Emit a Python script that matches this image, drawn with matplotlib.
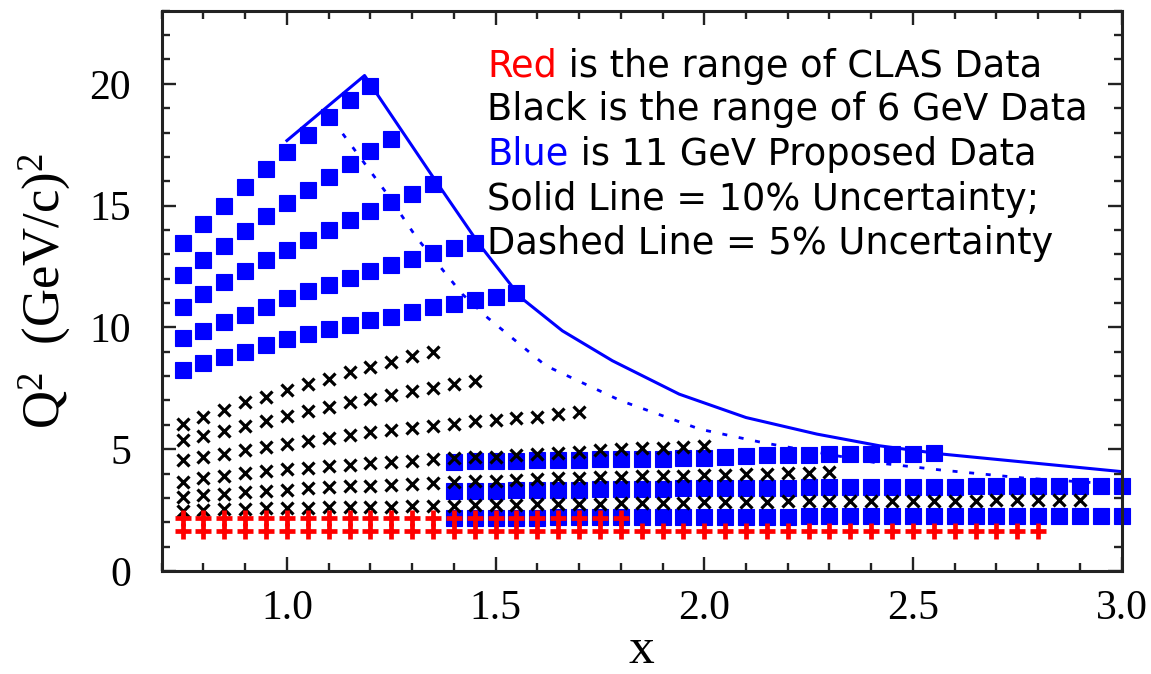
import numpy as np
import matplotlib
matplotlib.use("Agg")
import matplotlib.pyplot as plt
from matplotlib.ticker import MultipleLocator

# every series sits on a 0.05 grid in x, so only the start x and the Q2 values are kept
# blue squares: 11 GeV proposed data
blue_rows_start = [0.75, 0.75, 0.75, 0.75, 0.75, 1.40, 1.40, 1.40]
blue_r1 = [13.45, 14.25, 14.97, 15.76, 16.51, 17.20, 17.90, 18.63, 19.32, 19.93]
blue_r2 = [12.15, 12.77, 13.36, 13.97, 14.59, 15.10, 15.64, 16.17, 16.69, 17.24, 17.74]
blue_r3 = [10.85, 11.37, 11.88, 12.33, 12.77, 13.18, 13.59, 14.00, 14.39, 14.77, 15.14, 15.48, 15.87]
blue_r4 = [9.55, 9.86, 10.21, 10.52, 10.85, 11.19, 11.48, 11.75, 12.03, 12.30, 12.58, 12.81, 13.04,
           13.25, 13.45]
blue_r5 = [8.25, 8.52, 8.77, 9.01, 9.29, 9.52, 9.73, 9.93, 10.11, 10.30, 10.44, 10.62, 10.82, 10.96,
           11.12, 11.26, 11.40]
blue_l1 = [4.47, 4.50, 4.52, 4.53, 4.55, 4.56, 4.57, 4.58, 4.59, 4.60, 4.61, 4.62, 4.64, 4.70, 4.74,
           4.76, 4.78, 4.78, 4.79, 4.80, 4.80, 4.80, 4.81, 4.83]
blue_l2 = [3.28, 3.29, 3.30, 3.31, 3.32, 3.33, 3.34, 3.35, 3.36, 3.37, 3.38, 3.39, 3.40, 3.41, 3.42,
           3.42, 3.42, 3.43, 3.43, 3.44, 3.44, 3.45, 3.45, 3.46, 3.46, 3.47, 3.47, 3.48, 3.48, 3.48,
           3.49, 3.49, 3.49]
blue_l3 = [2.18, 2.18, 2.19, 2.19, 2.19, 2.20, 2.20, 2.20, 2.21, 2.21, 2.21, 2.22, 2.22, 2.22, 2.23,
           2.23, 2.23, 2.24, 2.24, 2.24, 2.24, 2.25, 2.25, 2.25, 2.25, 2.26, 2.26, 2.26, 2.26, 2.27,
           2.27, 2.27, 2.27]

# black crosses: 6 GeV data (all rows start at x = 0.75)
black_a = [6.05, 6.33, 6.60, 6.92, 7.15, 7.43, 7.67, 7.90, 8.15, 8.38, 8.60, 8.81, 9.01]
black_b = [5.37, 5.55, 5.75, 5.96, 6.17, 6.37, 6.58, 6.74, 6.92, 7.06, 7.23, 7.40, 7.53, 7.67, 7.78]
black_c = [4.55, 4.66, 4.80, 4.96, 5.10, 5.21, 5.34, 5.45, 5.58, 5.71, 5.80, 5.86, 5.96, 6.05, 6.17,
           6.21, 6.30, 6.34, 6.44, 6.54]
black_d = [3.67, 3.80, 3.91, 4.01, 4.09, 4.17, 4.24, 4.31, 4.37, 4.42, 4.48, 4.53, 4.58, 4.62, 4.66,
           4.70, 4.75, 4.80, 4.85, 4.90, 4.95, 4.99, 5.03, 5.07, 5.10, 5.14]
black_e = [3.05, 3.12, 3.18, 3.23, 3.29, 3.34, 3.39, 3.43, 3.47, 3.51, 3.54, 3.58, 3.62, 3.65, 3.68,
           3.71, 3.74, 3.77, 3.80, 3.82, 3.84, 3.86, 3.88, 3.90, 3.92, 3.94, 3.96, 3.98, 4.00, 4.02,
           4.03, 4.05]
black_f = [2.47, 2.50, 2.53, 2.55, 2.57, 2.59, 2.60, 2.61, 2.62, 2.63, 2.64, 2.65, 2.66, 2.67,
           2.70, 2.71, 2.73, 2.74, 2.75, 2.76, 2.77, 2.78, 2.79, 2.80, 2.81, 2.82, 2.83, 2.84, 2.85,
           2.86, 2.86, 2.87, 2.87, 2.88, 2.88, 2.88, 2.89, 2.89, 2.89, 2.90, 2.90, 2.90, 2.91, 2.91]

# red pluses: CLAS data (start x = 0.75)
red_top = [2.19] * 22
red_bottom = [1.65] * 42

# uncertainty limits
solid_x = [1.00, 1.186, 1.345, 1.46, 1.56, 1.66, 1.78, 1.94, 2.10, 2.27, 2.42, 2.57, 3.00]
solid_y = [17.67, 20.34, 16.30, 13.43, 11.23, 9.86, 8.63, 7.26, 6.30, 5.62, 5.14, 4.80, 4.08]
dash_x = [1.11, 1.24, 1.31, 1.42, 1.48, 1.62, 1.80, 1.99, 2.14, 2.41, 2.57, 2.77, 2.93, 3.00]
dash_y = [18.50, 15.48, 13.70, 11.37, 10.41, 8.43, 6.99, 5.82, 5.27, 4.45, 4.14, 3.81, 3.63, 3.56]


def grid(start, vals):
    return start + 0.05 * np.arange(len(vals))


plt.rcParams['font.family'] = 'Liberation Serif'
plt.rcParams['mathtext.fontset'] = 'custom'
plt.rcParams['mathtext.rm'] = 'Liberation Serif'
plt.rcParams['mathtext.it'] = 'Liberation Serif:italic'

BLUE = '#0000ff'
RED = '#ff0000'

fig = plt.figure(figsize=(11.51, 6.74), dpi=100)
ax = fig.add_axes([0.1405, 0.1528, 0.834, 0.8313])

# limit curves under the markers
ax.plot(solid_x, solid_y, '-', color=BLUE, lw=2.2, zorder=1)
ax.plot(dash_x, dash_y, color=BLUE, lw=2.0, ls=(0, (1.8, 4.2)), zorder=1)

blue_rows = [blue_r1, blue_r2, blue_r3, blue_r4, blue_r5, blue_l1, blue_l2, blue_l3]
for start, row in zip(blue_rows_start, blue_rows):
    ax.plot(grid(start, row), row, 's', color=BLUE, ms=11.5, mew=0.8, clip_on=False, zorder=2)

for row in [black_a, black_b, black_c, black_d, black_e, black_f]:
    ax.plot(grid(0.75, row), row, 'x', color='black', ms=8, mew=2.3, clip_on=False, zorder=3)

for row in [red_top, red_bottom]:
    ax.plot(grid(0.75, row), row, '+', color=RED, ms=11, mew=3.4, clip_on=False, zorder=4)

ax.set_xlim(0.7, 3.0)
ax.set_ylim(0, 23)
ax.xaxis.set_major_locator(MultipleLocator(0.5))
ax.xaxis.set_minor_locator(MultipleLocator(0.1))
ax.yaxis.set_major_locator(MultipleLocator(5))
ax.yaxis.set_minor_locator(MultipleLocator(1))
ax.tick_params(which='both', direction='in', top=True, right=True, width=1.7, color='#222222')
ax.tick_params(which='major', length=10)
ax.tick_params(which='minor', length=5.5)
ax.tick_params(axis='x', which='major', pad=13, labelsize=30)
ax.tick_params(axis='y', which='major', pad=22, labelsize=30)
for sp in ax.spines.values():
    sp.set_linewidth(2.2)
    sp.set_color('#222222')

ax.set_xlabel('x', fontsize=37)
ax.xaxis.set_label_coords(0.5, -0.1)
ax.set_ylabel(r'Q$^{\mathrm{2}}$  (GeV/c)$^{\mathrm{2}}$', fontsize=38)
ax.yaxis.set_label_coords(-0.092, 0.5)

# explanation text, first word coloured on two of the lines
tx = 0.339
fs = 26.5
tfont = 'DejaVu Sans'
t1 = ax.text(tx, 0.882, 'Red', color=RED, fontsize=fs, family=tfont, va='baseline',
             transform=ax.transAxes)
ax.annotate(' is the range of CLAS Data', xy=(1, 0), xycoords=t1, va='bottom',
            fontsize=fs, family=tfont, color='black')
ax.text(tx, 0.805, 'Black is the range of 6 GeV Data', fontsize=fs, family=tfont,
        va='baseline', transform=ax.transAxes)
t3 = ax.text(tx, 0.725, 'Blue', color=BLUE, fontsize=fs, family=tfont, va='baseline',
             transform=ax.transAxes)
ax.annotate(' is 11 GeV Proposed Data', xy=(1, 0), xycoords=t3, va='bottom',
            fontsize=fs, family=tfont, color='black')
ax.text(tx, 0.644, 'Solid Line = 10% Uncertainty;', fontsize=fs, family=tfont,
        va='baseline', transform=ax.transAxes)
ax.text(tx, 0.566, 'Dashed Line = 5% Uncertainty', fontsize=fs, family=tfont,
        va='baseline', transform=ax.transAxes)

fig.savefig('out.png', dpi=100)
